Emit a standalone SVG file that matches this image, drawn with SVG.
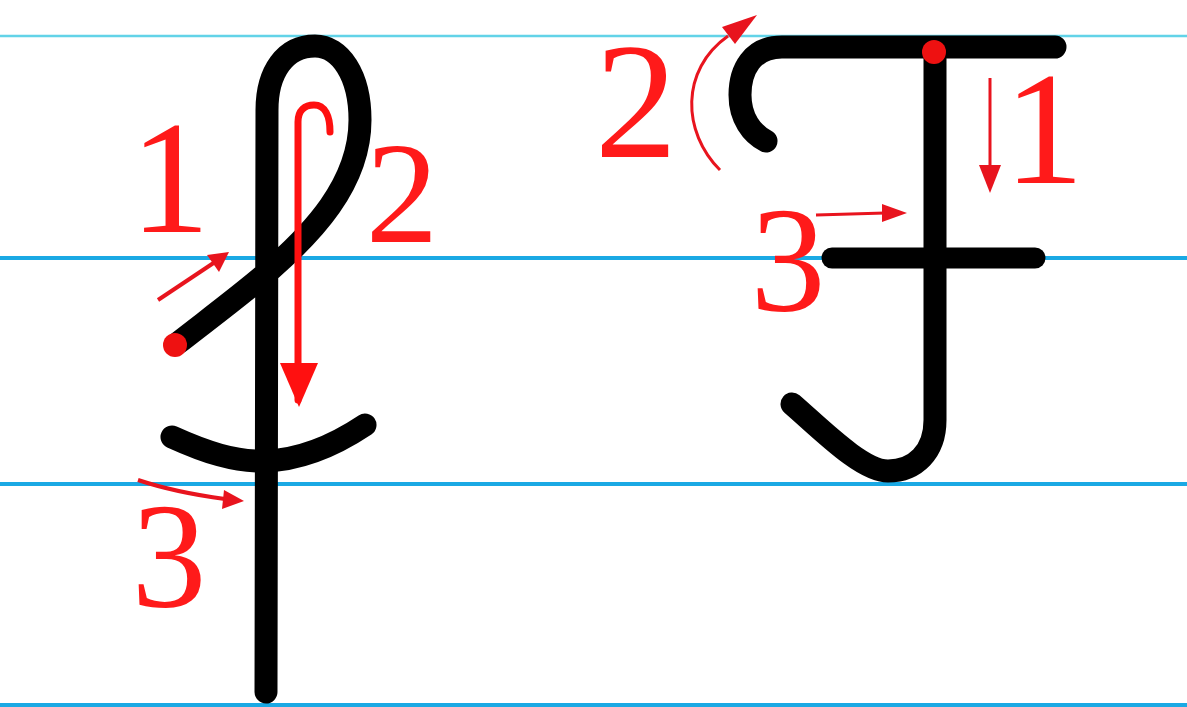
<svg xmlns="http://www.w3.org/2000/svg" width="1187" height="707" viewBox="0 0 1187 707">
<defs>
<style>
.guide{stroke:#1aa9e4;stroke-width:4;fill:none}
.guide-top{stroke:#62d3e8;stroke-width:2.5;fill:none}
.ink{stroke:#000;stroke-width:23;fill:none;stroke-linecap:round;stroke-linejoin:round}
.arr{stroke:#e8141e;stroke-width:4;fill:none}
.head{fill:#e8141e}
</style>
</defs>
<rect width="1187" height="707" fill="#fff"/>
<g id="guides">
<line class="guide-top" x1="0" y1="36" x2="1187" y2="36"/>
<line class="guide" x1="0" y1="258" x2="1187" y2="258"/>
<line class="guide" x1="0" y1="484" x2="1187" y2="484"/>
<line class="guide" x1="0" y1="705" x2="1187" y2="705"/>
</g>
<g id="letter-f">
<path class="ink" d="M178,343 C210,318 245,292 270,270 C310,235 360,185 360,120 C360,75 340,46 315,46 C285,46 267,72 267,110 L266,692"/>
<path class="ink" d="M172,437 C205,452 235,462 265,461 C300,460 335,445 365,425"/>
<circle cx="175" cy="345" r="12" fill="#ee1111"/>
</g>
<g id="letter-F">
<path class="ink" d="M1055,47 L782,47 C752,47 740,70 740,95 C740,118 752,134 766,141"/>
<path class="ink" d="M935,52 L935,420 C935,452 915,471 888,471 C862,471 822,430 792,404"/>
<path class="ink" d="M832,258 L1035,258" style="stroke-width:21"/>
<circle cx="934" cy="52" r="12" fill="#ee1111"/>
</g>
<g id="connectors">
<path class="arr" d="M158,300 L215,262"/>
<path class="head" d="M229,252 L207,255 L219,272 Z"/>
<path d="M298,400 L298,122 C298,110 305,105 314,105 C325,105 330,116 330,132" stroke="#ff1010" stroke-width="7" fill="none" stroke-linecap="round"/>
<path class="head" d="M280,363 L318,363 L299,407 Z" style="fill:#ff1010"/>
<path class="arr" d="M138,480 C165,489 195,495 225,499"/>
<path class="head" d="M244,501 L224,490 L222,509 Z"/>
<path class="arr" d="M990,78 L990,170" style="stroke-width:3"/>
<path class="head" d="M990,193 L979,165 L1001,165 Z"/>
<path class="arr" d="M720,170 C682,132 680,70 728,36" style="stroke-width:3"/>
<path class="head" d="M757,15 L722,27 L735,44 Z"/>
<path class="arr" d="M816,215 L885,213" style="stroke-width:3"/>
<path class="head" d="M907,213 L882,204 L882,222 Z"/>
</g>
<g id="labels" font-family="Liberation Serif, DejaVu Serif, Noto Serif, Times New Roman, Times, serif" fill="#ff1a1a" text-anchor="middle">
<text x="170" y="232" font-size="160">1</text>
<text x="402" y="242" font-size="145">2</text>
<text x="169" y="607" font-size="150">3</text>
<text x="1044" y="183" font-size="160">1</text>
<text x="636" y="157" font-size="165">2</text>
<text x="788" y="311" font-size="150">3</text>
</g>
</svg>
